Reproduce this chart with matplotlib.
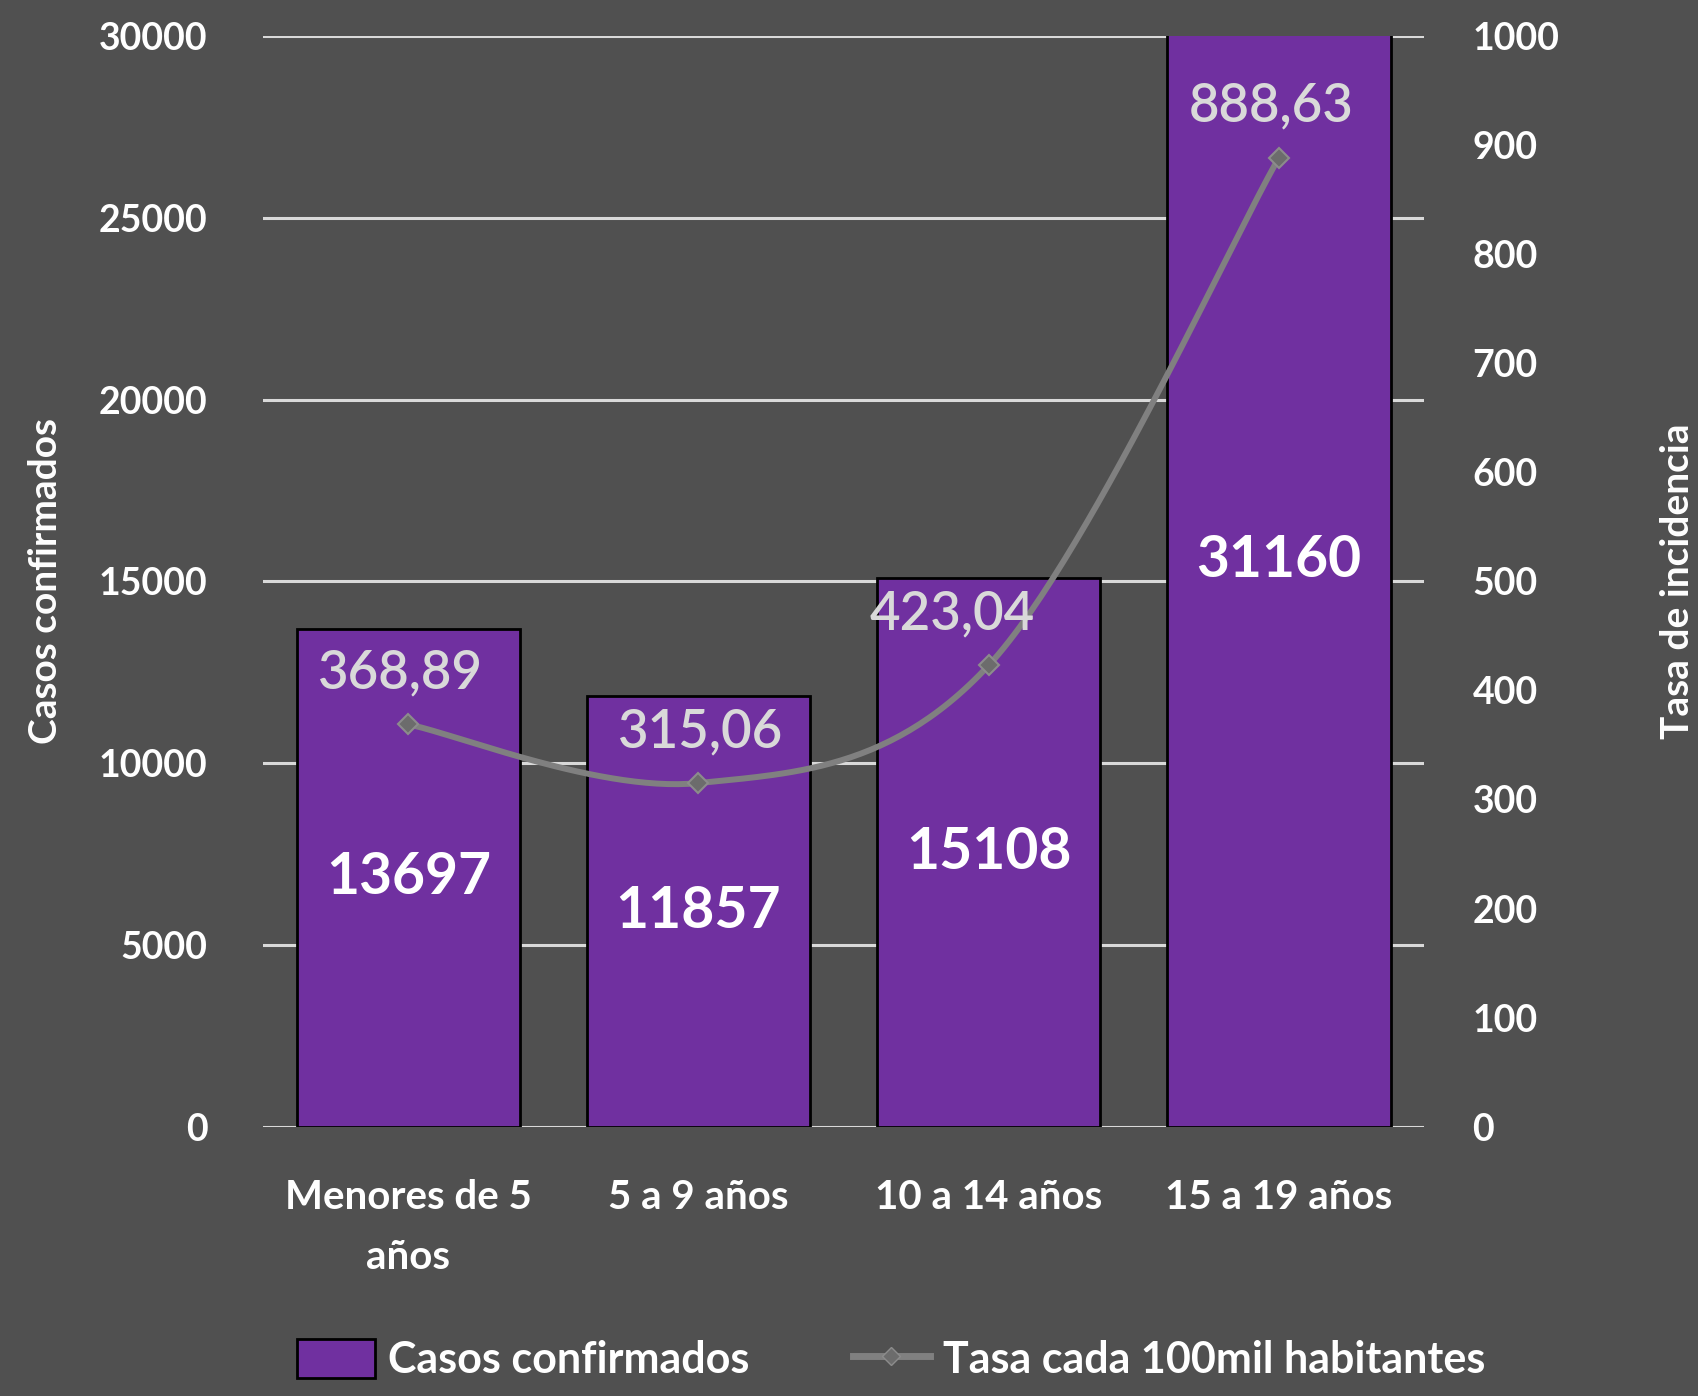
import numpy as np
import matplotlib

matplotlib.use("Agg")
import matplotlib.pyplot as plt
from matplotlib.lines import Line2D
from matplotlib.patches import Patch

plt.rcParams["font.family"] = ["Lato", "DejaVu Sans"]

categories = ["Menores de 5\naños", "5 a 9 años", "10 a 14 años", "15 a 19 años"]
casos = [13697, 11857, 15108, 31160]
tasa = [368.89, 315.06, 423.04, 888.63]
tasa_labels = ["368,89", "315,06", "423,04", "888,63"]

BG = "#505050"
BAR = "#7030a0"
GRID = "#d9d9d9"
LINE = "#808080"
INK = "white"


def catmull_rom(x, y, n=60):
    # smoothed line like the spreadsheet's "smooth line" option
    px = np.concatenate([[x[0]], x, [x[-1]]])
    py = np.concatenate([[y[0]], y, [y[-1]]])
    xs, ys = [], []
    t = np.linspace(0, 1, n)
    for i in range(1, len(px) - 2):
        for p, out in ((px, xs), (py, ys)):
            p0, p1, p2, p3 = p[i - 1], p[i], p[i + 1], p[i + 2]
            out.extend(0.5 * (2 * p1 + (-p0 + p2) * t
                              + (2 * p0 - 5 * p1 + 4 * p2 - p3) * t ** 2
                              + (-p0 + 3 * p1 - 3 * p2 + p3) * t ** 3))
    return np.array(xs), np.array(ys)


fig = plt.figure(figsize=(16.98, 13.96), dpi=100, facecolor=BG)
ax = fig.add_axes([0.155, 0.193, 0.6836, 0.781])
ax.set_facecolor(BG)
x = np.arange(len(categories))

ax.bar(x, casos, width=0.77, color=BAR, edgecolor="black", linewidth=2, zorder=3)
ax.set_ylim(0, 30000)
ax.set_xlim(-0.5, 3.5)
ax.set_yticks(np.arange(0, 30001, 5000))
ax.yaxis.grid(True, color=GRID, lw=2.2, zorder=0)
ax.set_axisbelow(True)
for s in ax.spines.values():
    s.set_visible(False)
ax.tick_params(length=0, labelsize=27, colors=INK, pad=40)
for lab in ax.get_yticklabels():
    lab.set_fontweight("bold")
ax.set_xticks(x)
ax.set_xticklabels(categories, fontsize=29, fontweight="bold", color=INK,
                   linespacing=1.75)
ax.tick_params(axis="x", pad=38)
ax.set_ylabel("Casos confirmados", fontsize=28, fontweight="bold", color=INK, labelpad=26)

for xi, v in zip(x, casos):
    ax.text(xi, v / 2, f"{v}", ha="center", va="center",
            fontsize=41, fontweight="bold", color=INK, zorder=5)

ax2 = ax.twinx()
ax2.set_ylim(0, 1000)
ax2.set_yticks(np.arange(0, 1001, 100))
for s in ax2.spines.values():
    s.set_visible(False)
ax2.tick_params(length=0, labelsize=27, colors=INK, pad=35)
for lab in ax2.get_yticklabels():
    lab.set_fontweight("bold")
ax2.set_ylabel("Tasa de incidencia", fontsize=28, fontweight="bold", color=INK,
               labelpad=72, rotation=90)

cx, cy = catmull_rom(x.astype(float), np.array(tasa))
ax2.plot(cx, cy, color=LINE, lw=4.3, solid_capstyle="round", zorder=4)
ax2.plot(x, tasa, "D", ms=10, color="#6c6c6c", mec="#8c8c8c", mew=1.5, zorder=5)

dx = [-8, 2, -36, -8]
for xi, v, lab, d in zip(x, tasa, tasa_labels, dx):
    ax2.annotate(lab, (xi, v), xytext=(d * 0.72, 37), textcoords="offset points",
                 ha="center", va="center", fontsize=38, fontweight="semibold",
                 color="#d9d9d9", zorder=6)

handles = [Patch(facecolor=BAR, edgecolor="black", linewidth=2),
           Line2D([], [], color=LINE, lw=5, marker="D", ms=9, mfc="#6c6c6c", mec="#8c8c8c")]
fig.legend(handles, ["Casos confirmados", "Tasa cada 100mil habitantes"],
           loc="lower center", bbox_to_anchor=(0.525, -0.004), ncol=2, frameon=False,
           labelcolor=INK, handlelength=1.8, handleheight=1.0, handletextpad=0.3,
           columnspacing=2.4, borderpad=0.0, prop={"weight": "bold", "size": 31})

fig.savefig("out.png", dpi=100, facecolor=BG)
